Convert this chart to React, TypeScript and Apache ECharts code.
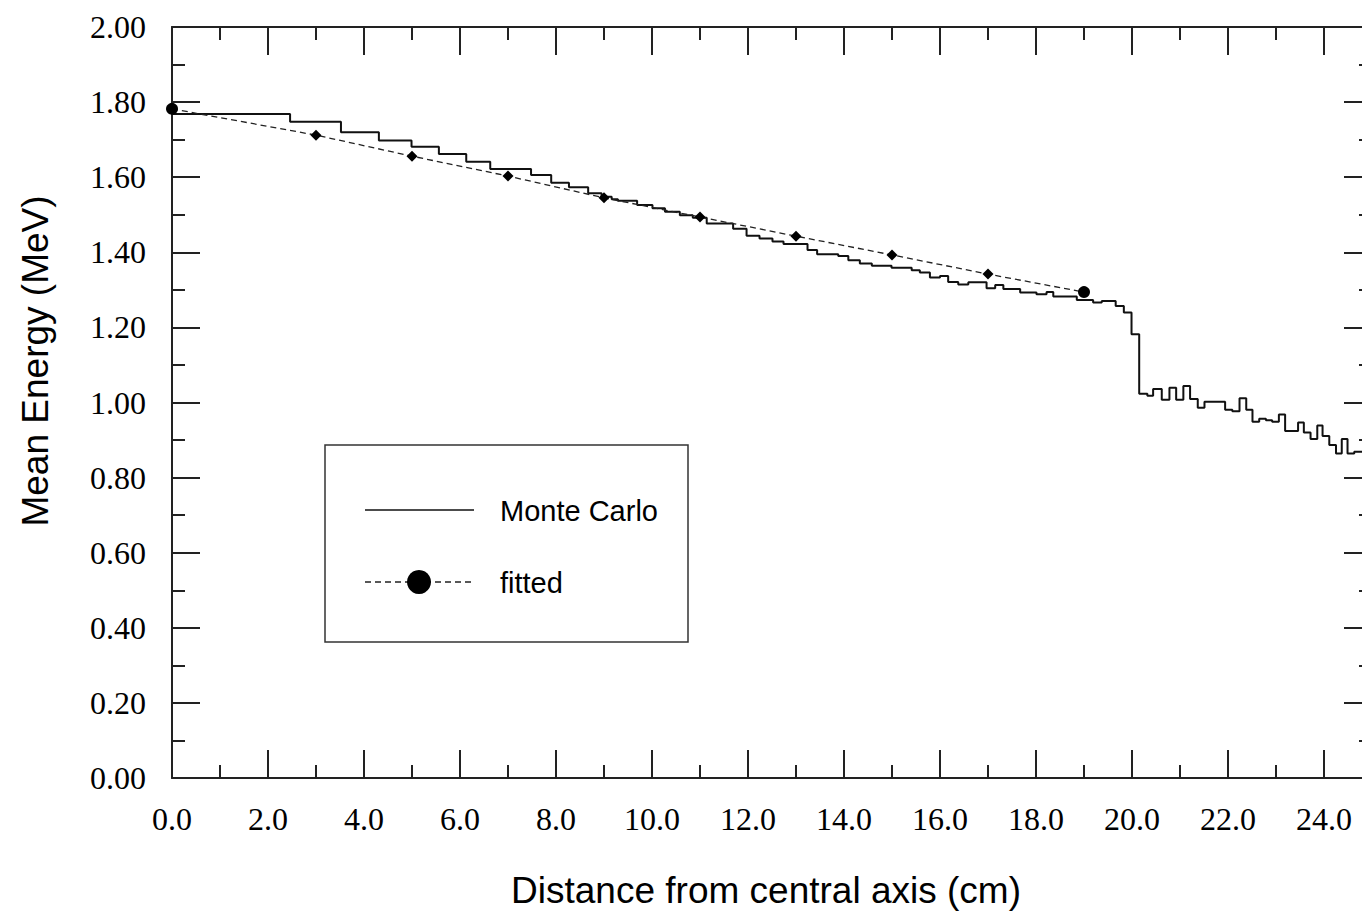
import React, { useEffect, useRef } from "react";
import * as echarts from "echarts";

// Monte Carlo step histogram: left edge of each step (cm) and mean energy (MeV)
const mcX = [
  0, 2.46, 3.52, 4.31, 4.99, 5.56, 6.13, 6.63, 7.48, 7.9, 8.27, 8.67, 8.95, 9.16, 9.29, 9.69,
  10.01, 10.27, 10.58, 10.85, 11.14, 11.69, 11.97, 12.24, 12.51, 12.74, 13.24, 13.44, 13.88,
  14.09, 14.33, 14.58, 14.99, 15.41, 15.58, 15.79, 16.0, 16.17, 16.38, 16.59, 16.97, 17.15,
  17.32, 17.67, 18.01, 18.22, 18.36, 18.85, 19.19, 19.37, 19.66, 19.83, 19.99, 20.15, 20.32,
  20.44, 20.62, 20.78, 20.92, 21.07, 21.21, 21.37, 21.51, 21.94, 22.09, 22.24, 22.38, 22.51,
  22.65, 22.79, 22.92, 23.06, 23.19, 23.46, 23.58, 23.72, 23.86, 23.97, 24.11, 24.25, 24.37,
  24.49, 24.63, 25.0,
];
const mcY = [
  1.768, 1.748, 1.72, 1.698, 1.681, 1.662, 1.641, 1.622, 1.606, 1.585, 1.573, 1.557, 1.548,
  1.541, 1.537, 1.526, 1.517, 1.508, 1.499, 1.492, 1.477, 1.463, 1.444, 1.437, 1.429, 1.422,
  1.406, 1.395, 1.39, 1.379, 1.37, 1.364, 1.359, 1.352, 1.346, 1.333, 1.337, 1.321, 1.314,
  1.32, 1.304, 1.313, 1.302, 1.293, 1.288, 1.294, 1.282, 1.273, 1.266, 1.27, 1.257, 1.24,
  1.182, 1.023, 1.018, 1.036, 1.007, 1.039, 1.007, 1.044, 1.009, 0.986, 1.002, 0.981, 0.977,
  1.011, 0.981, 0.949, 0.957, 0.953, 0.949, 0.968, 0.924, 0.947, 0.92, 0.903, 0.939, 0.911,
  0.887, 0.864, 0.903, 0.864, 0.869, 0.869,
];

// Fitted points
const fitX = [0, 3, 5, 7, 9, 11, 13, 15, 17, 19];
const fitY = [1.782, 1.712, 1.656, 1.603, 1.545, 1.494, 1.443, 1.393, 1.342, 1.294];
const fitSymbols = ["circle", "diamond", "diamond", "diamond", "diamond", "diamond", "diamond", "diamond", "diamond", "circle"];

const xTitle = "Distance from central axis (cm)";
const yTitle = "Mean Energy (MeV)";
const legendNames = ["Monte Carlo", "fitted"];

const AXIS_COLOR = "#222";
const SERIF = "'Liberation Serif', 'Times New Roman', serif";
const SANS = "'Liberation Sans', Arial, sans-serif";

function axisCommon(showLabel: boolean, fmt: (v: number) => string, minorSplit: number) {
  return {
    axisLine: { show: true, onZero: false, lineStyle: { color: AXIS_COLOR, width: 2 } },
    axisTick: { show: true, inside: true, length: 28, lineStyle: { color: AXIS_COLOR, width: 2 } },
    minorTick: { show: true, splitNumber: minorSplit, length: 13, lineStyle: { color: AXIS_COLOR, width: 2 } },
    splitLine: { show: false },
    minorSplitLine: { show: false },
    axisLabel: {
      show: showLabel,
      formatter: fmt,
      fontFamily: SERIF,
      fontSize: 32,
      color: "#000",
      showMaxLabel: false,
    },
  };
}

export default function App() {
  const ref = useRef<HTMLDivElement>(null);
  useEffect(() => {
    if (!ref.current) return;
    const chart = echarts.init(ref.current, undefined, { renderer: "svg" });
    const xf = (v: number) => v.toFixed(1);
    const yf = (v: number) => v.toFixed(2);
    const xBase = { type: "value", min: 0, max: 25, interval: 2 };
    const yBase = { type: "value", min: 0, max: 2, interval: 0.2 };
    const xBottom: any = { ...xBase, position: "bottom", ...axisCommon(true, xf, 2) };
    xBottom.axisLabel.margin = 25;
    const xTop: any = { ...xBase, position: "top", ...axisCommon(false, xf, 2) };
    const yLeft: any = { ...yBase, position: "left", ...axisCommon(true, yf, 2) };
    yLeft.axisLabel.margin = 26;
    yLeft.axisLabel.showMaxLabel = true;
    const yRight: any = { ...yBase, position: "right", ...axisCommon(false, yf, 2) };

    chart.setOption({
      animation: false,
      backgroundColor: "#fff",
      grid: { left: 172, top: 27, right: 0, bottom: 136, containLabel: false },
      xAxis: [xBottom, xTop],
      yAxis: [yLeft, yRight],
      series: [
        {
          name: legendNames[0],
          type: "line",
          step: "end",
          xAxisIndex: 0,
          yAxisIndex: 0,
          symbol: "none",
          lineStyle: { color: "#111", width: 2 },
          data: mcX.map((x, i) => [x, mcY[i]]),
        },
        {
          name: legendNames[1],
          type: "line",
          xAxisIndex: 0,
          yAxisIndex: 0,
          lineStyle: { color: "#222", width: 1.3, type: [6, 4] },
          itemStyle: { color: "#000" },
          data: fitX.map((x, i) => ({
            value: [x, fitY[i]],
            symbol: fitSymbols[i],
            symbolSize: fitSymbols[i] === "circle" ? 12 : 11,
          })),
        },
      ],
      graphic: [
        {
          type: "text",
          x: 766,
          y: 890,
          style: { text: xTitle, font: `37px ${SANS}`, fill: "#000", align: "center", verticalAlign: "middle" },
        },
        {
          type: "text",
          x: 35,
          y: 361,
          rotation: Math.PI / 2,
          style: { text: yTitle, font: `37px ${SANS}`, fill: "#000", align: "center", verticalAlign: "middle" },
        },
        {
          type: "group",
          children: [
            {
              type: "rect",
              shape: { x: 325, y: 445, width: 363, height: 197 },
              style: { fill: "#fff", stroke: "#333", lineWidth: 1.5 },
            },
            {
              type: "line",
              shape: { x1: 365, y1: 510, x2: 474, y2: 510 },
              style: { stroke: "#111", lineWidth: 1.5 },
            },
            {
              type: "text",
              x: 500,
              y: 511,
              style: { text: legendNames[0], font: `29px ${SANS}`, fill: "#000", align: "left", verticalAlign: "middle" },
            },
            {
              type: "line",
              shape: { x1: 365, y1: 582, x2: 474, y2: 582 },
              style: { stroke: "#222", lineWidth: 1.3, lineDash: [6, 4] },
            },
            {
              type: "circle",
              shape: { cx: 419, cy: 582, r: 12 },
              style: { fill: "#000" },
            },
            {
              type: "text",
              x: 500,
              y: 583,
              style: { text: legendNames[1], font: `29px ${SANS}`, fill: "#000", align: "left", verticalAlign: "middle" },
            },
          ],
        },
      ],
    });
    return () => chart.dispose();
  }, []);
  return (
    <div
      ref={ref}
      style={{ position: "fixed", left: 0, top: 0, width: 1372, height: 914, background: "#fff" }}
    />
  );
}
